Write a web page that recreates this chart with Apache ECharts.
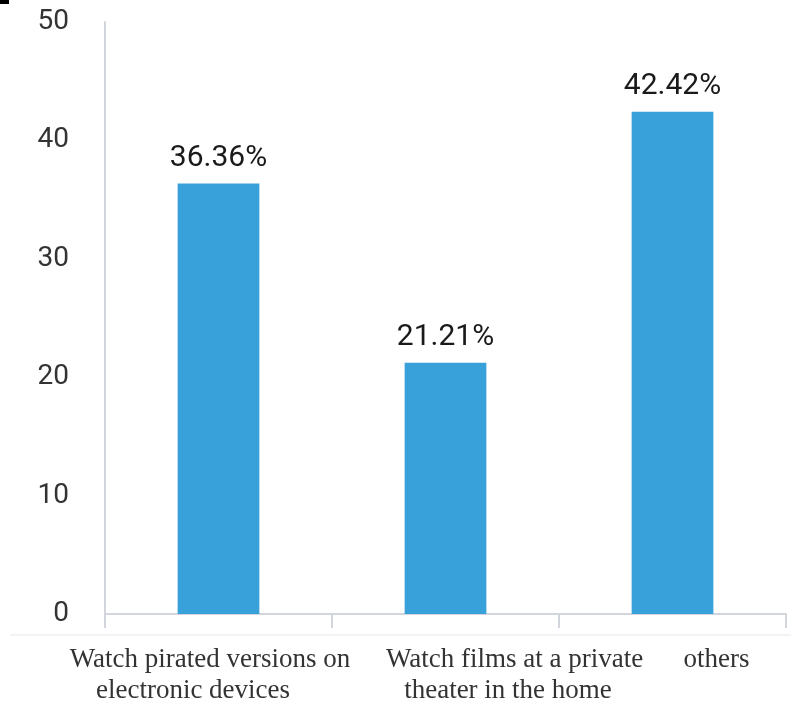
<!DOCTYPE html>
<html>
<head>
<meta charset="utf-8">
<script src="https://cdn.jsdelivr.net/npm/echarts@6/dist/echarts.min.js"></script>
<style>
  html, body { margin: 0; padding: 0; background: #fff; }
  #chart { width: 791px; height: 704px; }
</style>
</head>
<body>
<div id="chart"></div>
<script>
// Category names, split into their two display lines
const categories = [
  ['Watch pirated versions on', 'electronic devices'],
  ['Watch films at a private', 'theater in the home'],
  ['others']
];
// Share of respondents, percent
const values = [36.36, 21.21, 42.42];
// Value axis range
const yMin = 0, yMax = 50, yStep = 10;

// Horizontal nudges for each label line (left / right padding in px)
const linePads = [
  [[0, 17, 0, 0], [0, 51, 0, 0]],
  [[0, 0, 0, 138], [0, 0, 0, 125]],
  [[0, 0, 0, 88]]
];

const serif = '"Liberation Serif", "Times New Roman", serif';
const rich = {};
linePads.forEach((lines, i) => {
  lines.forEach((pad, j) => {
    rich['c' + i + '_' + j] = {
      fontFamily: serif, fontSize: 27, color: '#333', lineHeight: 31, padding: pad
    };
  });
});

const chart = echarts.init(document.getElementById('chart'), null, { renderer: 'canvas' });
chart.setOption({
  animation: false,
  backgroundColor: '#fff',
  grid: { left: 105, right: 5, top: 22, bottom: 83, containLabel: false },
  xAxis: {
    type: 'category',
    data: categories.map(c => c.join('\n')),
    axisLine: { lineStyle: { color: '#d2d6dc', width: 2 } },
    axisTick: { show: true, length: 14, lineStyle: { color: '#d2d6dc', width: 2 } },
    axisLabel: {
      interval: 0,
      margin: 30,
      formatter: (v, idx) => categories[idx]
        .map((line, j) => '{c' + idx + '_' + j + '|' + line + '}')
        .join('\n'),
      rich
    }
  },
  yAxis: {
    type: 'value',
    min: yMin, max: yMax, interval: yStep,
    axisLine: { show: true, lineStyle: { color: '#d2d6dc', width: 2 } },
    axisTick: { show: false },
    splitLine: { show: false },
    axisLabel: {
      margin: 36,
      padding: [13, 0, 0, 0],
      fontFamily: 'Roboto, sans-serif',
      fontSize: 28,
      color: '#333'
    }
  },
  series: [{
    type: 'bar',
    data: values,
    barWidth: '36%',
    itemStyle: { color: '#38a1d9' },
    label: {
      show: true,
      position: 'top',
      distance: 10,
      formatter: p => p.value.toFixed(2) + '%',
      fontFamily: 'Roboto, sans-serif',
      fontSize: 30,
      color: '#1a1a1a'
    }
  }],
  graphic: [
    { type: 'rect', shape: { x: 0, y: 0, width: 9, height: 4 }, style: { fill: '#000' } },
    { type: 'line', shape: { x1: 10, y1: 635, x2: 791, y2: 635 }, style: { stroke: '#f1f3f5', lineWidth: 2 } }
  ]
});
</script>
</body>
</html>
